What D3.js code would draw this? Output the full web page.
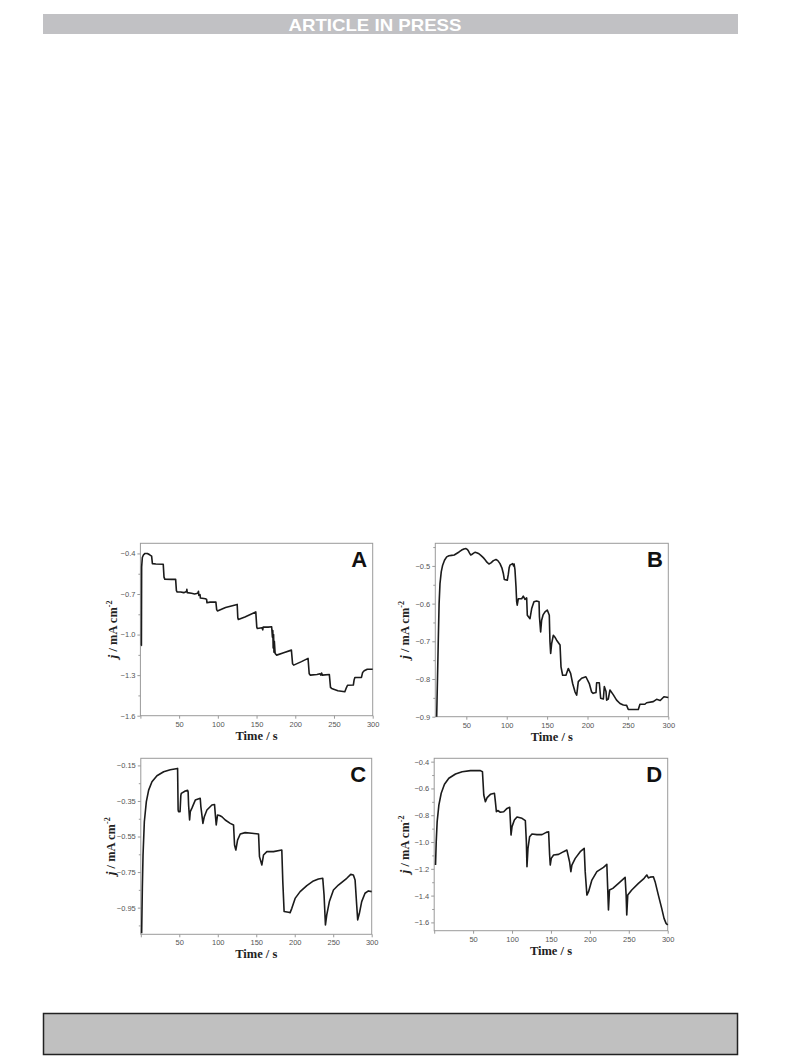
<!DOCTYPE html>
<html><head><meta charset="utf-8">
<script src="https://cdn.jsdelivr.net/npm/d3@7"></script>
<style>
html,body{margin:0;padding:0;background:#fff;}
svg{display:block;}
.tick text{font-family:"Liberation Sans",Arial,sans-serif;}
</style></head>
<body>
<svg id="fig" width="793" height="1057"></svg>
<script>
// ---------- data ----------
const headerText = "ARTICLE IN PRESS";
const panelLabels = ["A", "B", "C", "D"];
const xLabel = "Time / s";

const tA = [1.0,1.3,1.6,2.5,4,6,9,12,14.5,15.5,20,29.5,30.5,31.5,40,45.5,46.5,47.5,52,56,59.5,60,60.5,66,70,74,75,75.5,77,77.5,84,85.5,86,90,97.5,98.5,99.5,110,125,125.8,126.5,135,149,150.3,151,157,158,158.5,165,169.5,170.5,171,171.5,172,172.5,173,174,176,185,195,196.5,198,208,216.5,218,219.5,228,232,233,234,235,244,245.5,247,255,264,265.5,267.5,275,276,277,285.5,287,289,293,300];
const jA = [-1.08,-1.08,-0.50,-0.43,-0.41,-0.40,-0.40,-0.41,-0.42,-0.475,-0.478,-0.48,-0.575,-0.59,-0.592,-0.592,-0.675,-0.685,-0.685,-0.69,-0.682,-0.665,-0.69,-0.695,-0.70,-0.695,-0.68,-0.71,-0.705,-0.73,-0.735,-0.74,-0.765,-0.76,-0.76,-0.815,-0.825,-0.80,-0.777,-0.875,-0.888,-0.87,-0.832,-0.945,-0.955,-0.95,-0.965,-0.945,-0.945,-0.942,-1.02,-0.97,-1.10,-1.00,-1.13,-1.05,-1.14,-1.152,-1.135,-1.115,-1.215,-1.226,-1.2,-1.176,-1.29,-1.30,-1.295,-1.29,-1.30,-1.285,-1.30,-1.295,-1.39,-1.398,-1.415,-1.423,-1.40,-1.375,-1.373,-1.335,-1.317,-1.317,-1.28,-1.268,-1.257,-1.257];

const tB = [13.3,14.3,15.3,16.3,17.4,19,20.7,23,25.7,28.5,31.8,35,38,41,44.2,47,49.6,51,52.5,54,55.5,56.6,59,61,62.8,65,68,71,73,75.5,78,80.5,83.5,86.7,89,91.7,94,95.8,97,100.7,102,103,104,107.3,108.5,109.2,110.2,111.5,112.3,113,114.4,118.5,120.5,122.6,124.7,125.5,128.8,130.9,133.7,137,140,140.5,142,143.2,145,147.4,150.2,152.7,153.5,154.4,155.6,157.7,160,161.8,166,167.2,169.2,173.3,176.2,179.1,181.6,184.5,186.6,188.6,192.7,198,202.2,205,207,210.5,211.3,214.6,216.3,219.6,220.8,222.9,223.7,225.7,227.8,232,236,240.2,244.3,248.4,250.5,262.9,264.9,271,273.2,281.4,285.5,290,294.6,300];
const jB = [-0.90,-0.80,-0.697,-0.60,-0.547,-0.515,-0.498,-0.485,-0.476,-0.473,-0.472,-0.471,-0.467,-0.463,-0.458,-0.455,-0.454,-0.456,-0.46,-0.466,-0.471,-0.470,-0.466,-0.464,-0.465,-0.467,-0.472,-0.478,-0.483,-0.49,-0.495,-0.492,-0.486,-0.483,-0.486,-0.494,-0.505,-0.52,-0.536,-0.538,-0.522,-0.505,-0.498,-0.494,-0.5,-0.495,-0.51,-0.556,-0.595,-0.604,-0.587,-0.587,-0.58,-0.589,-0.585,-0.631,-0.64,-0.613,-0.595,-0.593,-0.595,-0.635,-0.675,-0.644,-0.63,-0.622,-0.617,-0.631,-0.7,-0.732,-0.706,-0.684,-0.69,-0.697,-0.71,-0.768,-0.79,-0.79,-0.772,-0.785,-0.812,-0.834,-0.843,-0.807,-0.798,-0.794,-0.812,-0.834,-0.838,-0.836,-0.81,-0.81,-0.851,-0.853,-0.82,-0.833,-0.856,-0.853,-0.829,-0.842,-0.856,-0.865,-0.869,-0.87,-0.881,-0.881,-0.867,-0.867,-0.863,-0.86,-0.854,-0.857,-0.847,-0.849];

const tC = [1.1,2,2.9,4.6,7.2,10.2,14.5,21,29.7,38.3,47.8,48.5,49,51,52,52.6,57.8,60.8,61.5,62.1,63.4,64.3,66.4,70.8,77.2,78,80.7,82.4,85.9,92.4,95.8,96.7,98,99.7,102.3,105.4,109.7,116.2,120.5,121.8,123.5,125.7,129.2,135.6,144.3,153,154.2,157.3,159.4,163.8,172.4,183.2,184.5,186.2,191.9,194,196.2,200.5,207,215.7,224.3,230.8,236.4,238.1,239.9,241.6,245,250.3,256.7,267.6,272.8,276.2,278.4,280.5,281.8,284,287,291.3,295.7,300];
const jC = [-1.094,-0.841,-0.654,-0.467,-0.354,-0.289,-0.242,-0.208,-0.186,-0.174,-0.167,-0.40,-0.41,-0.41,-0.32,-0.307,-0.294,-0.29,-0.30,-0.373,-0.457,-0.41,-0.39,-0.345,-0.335,-0.38,-0.476,-0.44,-0.401,-0.373,-0.37,-0.42,-0.485,-0.429,-0.432,-0.439,-0.457,-0.476,-0.485,-0.598,-0.626,-0.57,-0.536,-0.528,-0.532,-0.536,-0.663,-0.71,-0.654,-0.635,-0.635,-0.626,-0.804,-0.972,-0.976,-0.978,-0.954,-0.898,-0.86,-0.826,-0.8,-0.789,-0.785,-0.879,-1.047,-0.991,-0.916,-0.851,-0.823,-0.785,-0.763,-0.766,-0.794,-0.935,-1.019,-0.982,-0.916,-0.869,-0.856,-0.86];

const tD = [1.7,2.6,3.8,6,9,13.2,18.8,27.4,35.9,46.6,59.4,62,63.7,65.8,68,72.2,77.4,78.6,79.9,81.6,85,89.3,93.6,97,97.9,98.7,100,103,106.4,112.8,117.1,118.4,119.2,120.5,122.6,125.6,132,138.5,144,147,148.3,149.1,150.4,153.4,159.8,166.2,170.5,173.9,175.6,176.9,181.2,187.6,192.7,194,196.2,198.3,202.6,209,217.5,221.8,222.6,223.9,225.2,229.5,236.8,245.3,246.6,247.4,248.7,253.8,262.4,269.7,273.1,275.2,277.4,281.6,283.8,288,292.3,295.3,297.9,300];
const jD = [-1.172,-0.997,-0.848,-0.724,-0.636,-0.569,-0.524,-0.492,-0.475,-0.467,-0.467,-0.475,-0.649,-0.699,-0.669,-0.644,-0.636,-0.699,-0.773,-0.765,-0.778,-0.774,-0.749,-0.741,-0.848,-0.948,-0.885,-0.836,-0.813,-0.823,-0.841,-0.997,-1.184,-1.047,-0.96,-0.94,-0.945,-0.945,-0.928,-0.923,-1.097,-1.172,-1.122,-1.097,-1.092,-1.072,-1.06,-1.147,-1.221,-1.172,-1.122,-1.072,-1.047,-1.221,-1.396,-1.371,-1.284,-1.221,-1.189,-1.167,-1.296,-1.508,-1.358,-1.346,-1.309,-1.264,-1.396,-1.545,-1.396,-1.358,-1.309,-1.271,-1.246,-1.268,-1.262,-1.259,-1.296,-1.396,-1.495,-1.57,-1.607,-1.62];

// tick values
const xTicksA = [0,50,100,150,200,250,300];
const xTicksB = [50,100,150,200,250,300];
const yTicksA = [-1.6,-1.3,-1.0,-0.7,-0.4];
const yMinorA = [-1.45,-1.15,-0.85,-0.55];
const yTicksB = [-0.9,-0.8,-0.7,-0.6,-0.5];
const yMinorB = [-0.85,-0.75,-0.65,-0.55,-0.45];
const yTicksC = [-0.95,-0.75,-0.55,-0.35,-0.15];
const yMinorC = [-1.05,-0.85,-0.65,-0.45,-0.25];
const yTicksD = [-1.6,-1.4,-1.2,-1.0,-0.8,-0.6,-0.4];
const yMinorD = [-1.5,-1.3,-1.1,-0.9,-0.7,-0.5];

// ---------- layout ----------
const svg = d3.select("#fig");

svg.append("rect").attr("x",43).attr("y",14).attr("width",695).attr("height",20).attr("fill","#c1c1c4");
svg.append("text").attr("x",375).attr("y",30.5).attr("text-anchor","middle")
  .attr("font-family","'Liberation Sans Narrow','Arial Narrow','Liberation Sans',Arial,sans-serif")
  .attr("font-weight","bold").attr("font-size",17).attr("fill","#fff")
  .attr("textLength",173).attr("lengthAdjust","spacingAndGlyphs")
  .text(headerText);

svg.append("rect").attr("x",43.5).attr("y",1013.5).attr("width",694).attr("height",41)
  .attr("fill","#c0c0c0").attr("stroke","#222").attr("stroke-width",1.5);

const panels = [
  {t:tA, j:jA, label:panelLabels[0], box:[140.4,372.7,543.3,715.7], xd:[0,300], yd:[-1.6,-0.325],
   xt:xTicksA, yt:yTicksA, ym:yMinorA, fmt:d3.format(".1f"), ylx:117},
  {t:tB, j:jB, label:panelLabels[1], box:[435.3,668.3,543.3,716.7], xd:[11.6,300], yd:[-0.9,-0.44],
   xt:xTicksB, yt:yTicksB, ym:yMinorB, fmt:d3.format(".1f"), ylx:409},
  {t:tC, j:jC, label:panelLabels[2], box:[140.8,371.7,758.3,934.3], xd:[0,300], yd:[-1.10,-0.11],
   xt:xTicksA, yt:yTicksC, ym:yMinorC, fmt:d3.format(".2f"), ylx:115},
  {t:tD, j:jD, label:panelLabels[3], box:[434.2,667.7,758.3,930.7], xd:[0,300], yd:[-1.662,-0.375],
   xt:xTicksA, yt:yTicksD, ym:yMinorD, fmt:d3.format(".1f"), ylx:409}
];

const axisCol = "#9a9a9a";
panels.forEach(p => {
  const [x0,x1,y0,y1] = p.box;
  const x = d3.scaleLinear().domain(p.xd).range([x0,x1]);
  const y = d3.scaleLinear().domain(p.yd).range([y1,y0]);
  const g = svg.append("g");

  g.append("rect").attr("x",x0).attr("y",y0).attr("width",x1-x0).attr("height",y1-y0)
    .attr("fill","none").attr("stroke",axisCol).attr("stroke-width",1);

  const xa = g.append("g").attr("transform",`translate(0,${y1})`)
    .call(d3.axisBottom(x).tickValues(p.xt).tickSize(3).tickPadding(2.5).tickFormat(d => d===0 ? "" : d));
  const ya = g.append("g").attr("transform",`translate(${x0},0)`)
    .call(d3.axisLeft(y).tickValues(p.yt).tickSize(3).tickPadding(2).tickFormat(p.fmt));
  const ym = g.append("g").attr("transform",`translate(${x0},0)`)
    .call(d3.axisLeft(y).tickValues(p.ym).tickSize(2).tickFormat(""));
  [xa,ya,ym].forEach(a => {
    a.select(".domain").remove();
    a.selectAll(".tick line").attr("stroke",axisCol);
    a.selectAll(".tick text").attr("fill","#555").attr("font-size",7.5);
  });

  const pts = p.t.map((t,i)=>[t,p.j[i]]);
  g.append("path").datum(pts)
    .attr("d", d3.line().x(d=>x(d[0])).y(d=>y(d[1])))
    .attr("fill","none").attr("stroke","#1b1b1b").attr("stroke-width",1.6)
    .attr("stroke-linejoin","round");

  g.append("text").attr("x",x1-5.5).attr("y",y0+24).attr("text-anchor","end")
    .attr("font-family","'Liberation Sans',Arial,sans-serif").attr("font-weight","bold")
    .attr("font-size",22).attr("fill","#111").text(p.label);

  g.append("text").attr("x",(x0+x1)/2).attr("y",y1+24).attr("text-anchor","middle")
    .attr("font-family","'Liberation Serif','Times New Roman',serif").attr("font-weight","bold")
    .attr("font-size",12.5).attr("fill","#222").text(xLabel);

  const yl = g.append("text").attr("transform",`translate(${p.ylx},${(y0+y1)/2}) rotate(-90)`)
    .attr("text-anchor","middle")
    .attr("font-family","'Liberation Serif','Times New Roman',serif").attr("font-weight","bold")
    .attr("font-size",12.5).attr("fill","#222");
  yl.append("tspan").attr("font-style","italic").attr("font-size",13.5).text("j");
  yl.append("tspan").text(" / mA cm");
  yl.append("tspan").attr("dy",-5).attr("font-size",8).text("-2");
});
</script>
</body></html>
